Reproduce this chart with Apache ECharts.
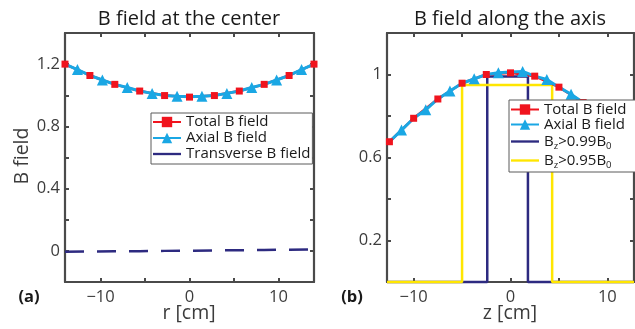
<!DOCTYPE html>
<html><head><meta charset="utf-8">
<script src="https://cdn.jsdelivr.net/npm/echarts@6/dist/echarts.min.js"></script>
<style>html,body{margin:0;padding:0;background:#fff}#c{width:635px;height:329px}</style>
</head><body><div id="c"></div>
<script>
// ---- Panel (a): B field at the center ----
const rTotal = [-14, -11.2, -8.4, -5.6, -2.8, 0, 2.8, 5.6, 8.4, 11.2, 14];
const bTotalA = [1.2, 1.127, 1.07, 1.027, 0.998, 0.988, 0.998, 1.027, 1.07, 1.127, 1.2];
const rAxial = [-14, -12.6, -11.2, -9.8, -8.4, -7, -5.6, -4.2, -2.8, -1.4, 0, 1.4, 2.8, 4.2, 5.6, 7, 8.4, 9.8, 11.2, 12.6, 14];
const bAxialA = [1.2, 1.165, 1.128, 1.098, 1.07, 1.05, 1.027, 1.012, 0.998, 0.993, 0.99, 0.993, 0.998, 1.012, 1.027, 1.05, 1.07, 1.098, 1.128, 1.165, 1.2];
const bTransA = [-0.005, -0.004, -0.003, -0.002, 0, 0.001, 0.003, 0.004, 0.006, 0.008, 0.01];
const xTicksA = [-10, -5, 0, 5, 10];
const xLabelsA = [-10, 0, 10];
const yTicksA = [0, 0.2, 0.4, 0.6, 0.8, 1.0, 1.2];
const yLabelsA = [0, 0.4, 0.8, 1.2];

// ---- Panel (b): B field along the axis ----
const zTotal = [-12.5, -10, -7.5, -5, -2.5, 0, 2.5, 5, 7.5, 10, 12.5];
const bTotalB = [0.676, 0.789, 0.882, 0.958, 1.0, 1.008, 0.992, 0.939, 0.865, 0.77, 0.66];
const zAxial = [-12.5, -11.25, -10, -8.75, -7.5, -6.25, -5, -3.75, -2.5, -1.25, 0, 1.25, 2.5, 3.75, 5, 6.25, 7.5, 8.75, 10, 11.25, 12.5];
const bAxialB = [0.676, 0.732, 0.789, 0.83, 0.882, 0.92, 0.958, 0.979, 1.0, 1.008, 1.012, 1.015, 0.992, 0.976, 0.939, 0.905, 0.865, 0.82, 0.77, 0.715, 0.66];
const z99 = [-12.75, -2.4, -2.4, 1.8, 1.8, 12.75];
const b99 = [0, 0, 0.99, 0.99, 0, 0];
const z95 = [-12.75, -5, -5, 4.3, 4.3, 12.75];
const b95 = [0, 0, 0.95, 0.95, 0, 0];
const xTicksB = [-10, -5, 0, 5, 10];
const xLabelsB = [-10, 0, 10];
const yTicksB = [0.2, 0.4, 0.6, 0.8, 1.0];
const yLabelsB = [0.2, 0.6, 1];

const FONT = 'Open Sans';
const AX = '#4a4a4a';
const TXT = '#3c3c3c';
const RED = '#f0141e', BLUE = '#1aa7e4', NAVY = '#2d2a80', YEL = '#ffe600';
const LINE_ICON = 'path://M0,0 L30,0 L30,2.5 L0,2.5 Z';

function pairs(xs, ys) { return xs.map((x, i) => [x, ys[i]]); }
function marked(xs, ys, keepOdd) {
  return xs.map((x, i) => {
    const show = keepOdd ? (i % 2 === 1) : true;
    return show ? { value: [x, ys[i]] } : { value: [x, ys[i]], symbol: 'none' };
  });
}
const fmt = v => { const s = String(Math.round(v * 10) / 10); return s.replace('-', '\u2212'); };

function xAx(grid, min, max, ticks, labels) {
  return [{
    type: 'value', gridIndex: grid, min, max, position: 'bottom',
    axisLine: { show: true, onZero: false, lineStyle: { color: AX, width: 2.2 } },
    axisTick: { show: true, inside: true, length: 4, customValues: ticks, lineStyle: { color: AX, width: 2 } },
    axisLabel: { customValues: labels, formatter: fmt, color: TXT, fontSize: 16.5, fontFamily: FONT, margin: 7 },
    splitLine: { show: false }
  }, {
    type: 'value', gridIndex: grid, min, max, position: 'top',
    axisLine: { show: true, onZero: false, lineStyle: { color: AX, width: 2.2 } },
    axisTick: { show: true, inside: true, length: 4, customValues: ticks, lineStyle: { color: AX, width: 2 } },
    axisLabel: { show: false }, splitLine: { show: false }
  }];
}
function yAx(grid, min, max, ticks, labels) {
  return [{
    type: 'value', gridIndex: grid, min, max, position: 'left',
    axisLine: { show: true, onZero: false, lineStyle: { color: AX, width: 2.2 } },
    axisTick: { show: true, inside: true, length: 4, customValues: ticks, lineStyle: { color: AX, width: 2 } },
    axisLabel: { customValues: labels, formatter: fmt, color: TXT, fontSize: 16.5, fontFamily: FONT, margin: 5 },
    splitLine: { show: false }
  }, {
    type: 'value', gridIndex: grid, min, max, position: 'right',
    axisLine: { show: true, onZero: false, lineStyle: { color: AX, width: 2.2 } },
    axisTick: { show: true, inside: true, length: 4, customValues: ticks, lineStyle: { color: AX, width: 2 } },
    axisLabel: { show: false }, splitLine: { show: false }
  }];
}

const legendBase = {
  orient: 'vertical', backgroundColor: '#fff', borderColor: '#5a5a5a', borderWidth: 1,
  itemGap: 0, itemWidth: 28, itemHeight: 13,
  textStyle: { fontFamily: FONT, fontSize: 15, color: '#1a1a1a', lineHeight: 16,
    rich: {
      p: { fontFamily: FONT, fontSize: 15, color: '#1a1a1a', lineHeight: 15 },
      n: { fontFamily: FONT, fontSize: 15, color: '#1a1a1a', lineHeight: 17 },
      s: { fontFamily: FONT, fontSize: 9.5, color: '#1a1a1a', lineHeight: 17, padding: [9, 0, 0, 0] }
    } },
  inactiveColor: '#ccc'
};

const chart = echarts.init(document.getElementById('c'), null, { renderer: 'canvas' });
chart.setOption({
  animation: false,
  backgroundColor: '#fff',
  grid: [
    { left: 65, right: 321, top: 33, bottom: 47 },
    { left: 387, right: 1, top: 33, bottom: 47 }
  ],
  xAxis: [...xAx(0, -14, 14, xTicksA, xLabelsA), ...xAx(1, -12.75, 12.75, xTicksB, xLabelsB)],
  yAxis: [...yAx(0, -0.2, 1.4, yTicksA, yLabelsA), ...yAx(1, 0, 1.2, yTicksB, yLabelsB)],
  legend: [
    Object.assign({}, legendBase, { left: 151, top: 113, padding: [1, 2, 2, 1],
      data: ['Total B field', 'Axial B field', { name: 'Transverse B field', icon: LINE_ICON }] }),
    Object.assign({}, legendBase, { left: 509, top: 100, padding: [2, 16, 2, 1],
      data: ['Total B field ', 'Axial B field ', { name: 'Bz>0.99B0', icon: LINE_ICON }, { name: 'Bz>0.95B0', icon: LINE_ICON }],
      formatter: function (n) {
        if (n === 'Bz>0.99B0') return '{n|B}{s|z}{n|>0.99B}{s|0}';
        if (n === 'Bz>0.95B0') return '{n|B}{s|z}{n|>0.95B}{s|0}';
        return '{p|' + n.trim() + '}';
      } })
  ],
  series: [
    { name: 'Total B field', type: 'line', xAxisIndex: 0, yAxisIndex: 0, data: marked(rTotal, bTotalA, false),
      symbol: 'rect', symbolSize: 7, color: RED, lineStyle: { width: 2.5, color: RED }, itemStyle: { color: RED } },
    { name: 'Axial B field', type: 'line', xAxisIndex: 0, yAxisIndex: 0, data: marked(rAxial, bAxialA, true),
      symbol: 'triangle', symbolSize: 11, color: BLUE, lineStyle: { width: 3, color: BLUE }, itemStyle: { color: BLUE } },
    { name: 'Transverse B field', type: 'line', xAxisIndex: 0, yAxisIndex: 0,
      data: pairs(rTotal, bTransA), symbol: 'none', color: NAVY,
      lineStyle: { width: 2.5, color: NAVY, type: [19, 13] } },

    { name: 'Bz>0.99B0', type: 'line', xAxisIndex: 2, yAxisIndex: 2, data: pairs(z99, b99), symbol: 'none', clip: false,
      color: NAVY, lineStyle: { width: 2.5, color: NAVY } },
    { name: 'Bz>0.95B0', type: 'line', xAxisIndex: 2, yAxisIndex: 2, data: pairs(z95, b95), symbol: 'none', clip: false,
      color: YEL, lineStyle: { width: 2.5, color: YEL } },
    { name: 'Total B field ', type: 'line', xAxisIndex: 2, yAxisIndex: 2, data: marked(zTotal, bTotalB, false),
      symbol: 'rect', symbolSize: 7, color: RED, lineStyle: { width: 2.5, color: RED }, itemStyle: { color: RED } },
    { name: 'Axial B field ', type: 'line', xAxisIndex: 2, yAxisIndex: 2, data: marked(zAxial, bAxialB, true),
      symbol: 'triangle', symbolSize: 11, color: BLUE, lineStyle: { width: 3, color: BLUE }, itemStyle: { color: BLUE } }
  ],
  graphic: [
    { type: 'text', style: { text: 'B field at the center', x: 189, y: 19, align: 'center', verticalAlign: 'middle', font: '20px "' + FONT + '"', fill: '#1a1a1a' } },
    { type: 'text', style: { text: 'B field along the axis', x: 510, y: 19, align: 'center', verticalAlign: 'middle', font: '20px "' + FONT + '"', fill: '#1a1a1a' } },
    { type: 'text', style: { text: 'r [cm]', x: 189, y: 313, align: 'center', verticalAlign: 'middle', font: '19.5px "' + FONT + '"', fill: TXT } },
    { type: 'text', style: { text: 'z [cm]', x: 510, y: 313, align: 'center', verticalAlign: 'middle', font: '19.5px "' + FONT + '"', fill: TXT } },
    { type: 'text', x: 22, y: 156, rotation: Math.PI / 2, style: { text: 'B field', x: 0, y: 0, align: 'center', verticalAlign: 'middle', font: '19.5px "' + FONT + '"', fill: TXT } },
    { type: 'text', style: { text: '(a)', x: 29, y: 297, align: 'center', verticalAlign: 'middle', font: 'bold 16.5px "' + FONT + '"', fill: '#1a1a1a' } },
    { type: 'text', style: { text: '(b)', x: 352, y: 297, align: 'center', verticalAlign: 'middle', font: 'bold 16.5px "' + FONT + '"', fill: '#1a1a1a' } }
  ]
});
</script></body></html>
